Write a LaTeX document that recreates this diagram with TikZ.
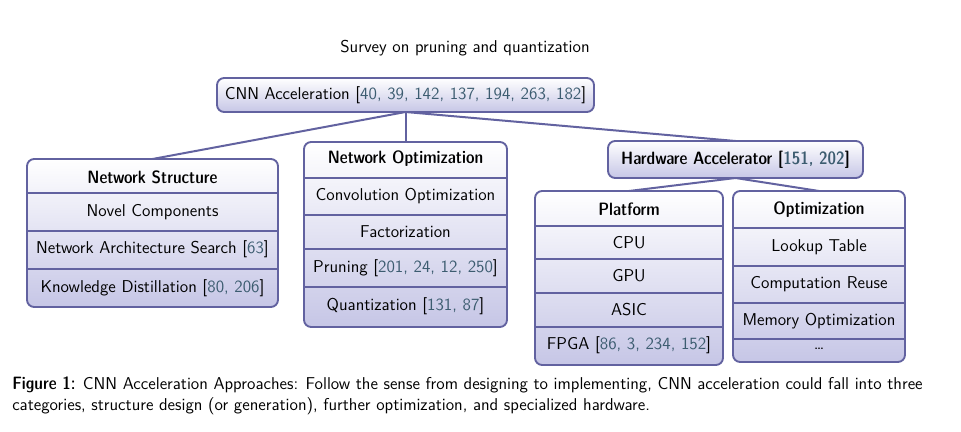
\documentclass[tikz,border=0pt]{standalone}
\usetikzlibrary{positioning}
\definecolor{bordc}{RGB}{98,98,160}
\definecolor{lav}{RGB}{198,198,230}
\definecolor{citec}{RGB}{60,92,112}
\newcommand\pxu{0.7pt}
\newcommand\cit[1]{[\textcolor{citec}{#1}]}
\newcommand\hdrseries{\fontseries{sbc}\selectfont}
\tikzset{
  panel/.style={draw=bordc, line width=1.3pt, rounded corners=5pt, top color=white, bottom color=lav, inner sep=0pt, outer sep=0pt},
  divline/.style={draw=bordc, line width=1.2pt},
  conn/.style={draw=bordc, line width=1.4pt},
  txt/.style={inner sep=1pt, font=\sffamily\fontsize{12}{14}\selectfont},
  hdr/.style={txt, font=\sffamily\hdrseries\fontsize{12.5}{14}\selectfont},
}
\begin{document}
\begin{tikzpicture}[x=0.7pt,y=-0.7pt]
\useasboundingbox (0,0) rectangle (961,431);
% title
\node[txt] (title) at (465,48) {Survey on pruning and quantization};
% CNN box
\node[panel, minimum width=377*\pxu, minimum height=34*\pxu] (cnn) at (405.5,95) {};
\node[txt] (cnnt) at (405.5,95) {CNN Acceleration \cit{40, 39, 142, 137, 194, 263, 182}};
% Network structure
\node[panel, minimum width=251*\pxu, minimum height=148*\pxu] (ns) at (152.5,233) {};
\draw[divline] (27,193) -- (278,193);
\draw[divline] (27,231) -- (278,231);
\draw[divline] (27,269) -- (278,269);
\node[hdr] (ns0) at (152.5,177) {Network Structure};
\node[txt] (ns1) at (152.5,212) {Novel Components};
\node[txt] (ns2) at (152.5,249) {Network Architecture Search \cit{63}};
\node[txt] (ns3) at (152.5,288) {Knowledge Distillation \cit{80, 206}};
% Network optimization
\node[panel, minimum width=203*\pxu, minimum height=185*\pxu] (no) at (405.5,234.5) {};
\draw[divline] (304,178) -- (507,178);
\draw[divline] (304,215) -- (507,215);
\draw[divline] (304,249) -- (507,249);
\draw[divline] (304,287) -- (507,287);
\node[hdr] (no0) at (405.5,159) {Network Optimization};
\node[txt] (no1) at (405.5,196.5) {Convolution Optimization};
\node[txt] (no2) at (405.5,232) {Factorization};
\node[txt] (no3) at (405.5,268) {Pruning \cit{201, 24, 12, 250}};
\node[txt] (no4) at (405.5,306) {Quantization \cit{131, 87}};
% Hardware accelerator
\node[panel, minimum width=255*\pxu, minimum height=37*\pxu] (ha) at (735.5,159.5) {};
\node[hdr] (hat) at (735.5,159.5) {Hardware Accelerator \cit{151, 202}};
% Platform
\node[panel, minimum width=188*\pxu, minimum height=174*\pxu] (pf) at (629,278) {};
\draw[divline] (535,226) -- (723,226);
\draw[divline] (535,259) -- (723,259);
\draw[divline] (535,293) -- (723,293);
\draw[divline] (535,327) -- (723,327);
\node[hdr] (pf0) at (629,209) {Platform};
\node[txt] (pf1) at (629,242.5) {CPU};
\node[txt] (pf2) at (629,276) {GPU};
\node[txt] (pf3) at (629,310) {ASIC};
\node[txt] (pf4) at (629,345) {FPGA \cit{86, 3, 234, 152}};
% Optimization
\node[panel, minimum width=172*\pxu, minimum height=171*\pxu] (op) at (819,276.5) {};
\draw[divline] (733,228) -- (905,228);
\draw[divline] (733,266) -- (905,266);
\draw[divline] (733,303) -- (905,303);
\draw[divline] (733,339) -- (905,339);
\node[hdr] (op0) at (819,209.5) {Optimization};
\node[txt] (op1) at (819,247) {Lookup Table};
\node[txt] (op2) at (819,284.5) {Computation Reuse};
\node[txt] (op3) at (819,321) {Memory Optimization};
\node[txt] (op4) at (819,349) {\dots};
% connectors
\draw[conn] (cnn.south) -- (ns.north);
\draw[conn] (cnn.south) -- (no.north);
\draw[conn] (cnn.south) -- (ha.north);
\draw[conn] (ha.south) -- (pf.north);
\draw[conn] (ha.south) -- (op.north);
% caption
\node[anchor=north west, inner sep=0pt, align=left, font=\sffamily\fontsize{12}{14.7}\selectfont] (cap) at (12,376)
 {{\fontsize{12.5}{14.7}\hdrseries Figure 1:} CNN Acceleration Approaches: Follow the sense from designing to implementing, CNN acceleration could fall into three\\
 categories, structure design (or generation), further optimization, and specialized hardware.};
\end{tikzpicture}
\end{document}
